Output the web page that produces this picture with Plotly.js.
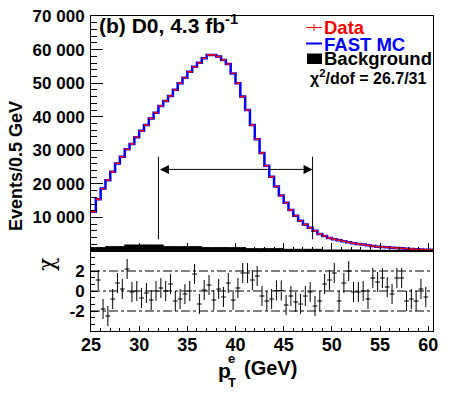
<!DOCTYPE html>
<html><head><meta charset="utf-8">
<script src="https://cdn.plot.ly/plotly-3.0.1.min.js"></script>
<style>html,body{margin:0;padding:0;background:#fff}#chart{width:458px;height:396px}</style>
</head><body><div id="chart"></div><script>
// ---- data ----
const binLow = 25, binWidth = 0.5;
const fastMC = [11700,15400,18600,21100,23600,26100,28100,30300,31900,33900,35800,37500,39500,41200,43200,44700,46200,48000,50000,51600,53400,54900,56100,57400,58400,58400,57900,56900,55700,52900,50000,46000,42000,37500,33300,29200,25400,22100,19200,16500,14400,12200,10500,9000,7900,6900,6000,5100,4500,3900,3500,3200,2900,2600,2300,2100,1900,1700,1500,1300,1200,1100,1000,900,800,700,600,500,450,400,350];
const dataEvents = [11700,15400,18600,21100,23600,26100,28100,30300,31900,33900,35800,37500,39500,41200,43200,44700,46200,48000,50000,51600,53400,54900,56100,57400,58400,58400,57900,56900,55700,52900,50000,46000,42000,37500,33300,29200,25400,22100,19200,16500,14400,12200,10500,9000,7900,6900,6000,5100,4500,3900,3500,3200,2900,2600,2300,2100,1900,1700,1500,1300,1200,1100,1000,900,800,700,600,500,450,400,350];
const background = [1000,1000,1000,1300,1300,1300,1300,1800,1800,1800,1800,1800,1800,1800,1800,1300,1300,1300,1300,1300,1300,1300,1300,1000,1000,1000,1000,1000,1000,1000,1000,1000,700,700,700,700,700,700,700,700,500,500,500,500,500,500,500,500,300,300,300,300,300,300,300,300,200,200,200,200,200,200,200,200,200,200,200,200,200,200,200];
const chi = [null,1.1,-1.8,-2.5,-0.8,0.8,0.2,2.2,-0.1,0.0,-0.7,-0.2,-0.9,0.0,0.3,0.0,0.7,-1.0,-0.8,-0.3,0.0,1.7,-1.3,0.1,0.6,-0.9,0.2,-0.6,0.8,-0.9,0.3,1.8,1.8,1.1,1.5,-0.5,-1.0,-0.8,0.05,0.05,-1.4,-0.5,-1.1,-1.3,-0.5,-0.1,-1.5,-1.0,0.7,1.1,1.8,-1.0,0.8,2.0,-0.1,-0.1,0.0,-0.8,1.3,0.9,1.3,0.4,-0.3,1.3,1.3,-1.0,-0.8,-1.0,0.2,-0.6];
const chiError = 1;
const yTickVals = [10000,20000,30000,40000,50000,60000,70000];
const yTickText = ['10 000','20 000','30 000','40 000','50 000','60 000','70 000'];
const xTickVals = [25,30,35,40,45,50,55,60];
const xTickText = ['25','30','35','40','45','50','55','60'];
const chiTickVals = [-2,0,2];
const chiTickText = ['-2','0','2'];
const chiRefLines = [-2,0,2];
const fitRange = [32,48];
const fitArrowLevel = 24300;
const fitLineSpan = [3500,28100];
const chi2Text = '\u03c7<sup>2</sup>/dof = 26.7/31';

// ---- derived x positions from binning ----
const nBins = fastMC.length;
const edges = Array.from({length: nBins + 1}, (_, i) => binLow + binWidth * i);
const centers = Array.from({length: nBins}, (_, i) => binLow + binWidth * (i + 0.5));
const stepY = a => a.concat([a[a.length - 1]]);
const xMax = edges[edges.length - 1];

// ---- pixel helpers for decorations ----
const W = 458, H = 396, L = 91, R = 433, T = 16, B = 331;
const px = x => (x - L) / (R - L);
const py = y => (B - y) / (B - T);
const FONT = 'Liberation Sans, Arial, sans-serif';

const traces = [
  {x: edges, y: stepY(background), type: 'scatter', mode: 'lines', line: {shape: 'hv', color: '#000', width: 1},
   fill: 'tozeroy', fillcolor: '#000', xaxis: 'x', yaxis: 'y', hoverinfo: 'skip'},
  {x: edges, y: stepY(fastMC), type: 'scatter', mode: 'lines', line: {shape: 'hv', color: '#0000ff', width: 2.5},
   xaxis: 'x', yaxis: 'y', hoverinfo: 'skip'},
  {x: centers, y: dataEvents, type: 'scatter', mode: 'markers', marker: {size: 1, color: '#ff0000'},
   error_x: {type: 'constant', value: binWidth / 2, width: 0, thickness: 1.5, color: '#ff0000'},
   xaxis: 'x', yaxis: 'y', hoverinfo: 'skip'},
  {x: centers.slice(0, chi.length), y: chi, type: 'scatter', mode: 'markers', marker: {size: 1, color: '#000'},
   error_x: {type: 'constant', value: binWidth / 2, width: 0, thickness: 1, color: '#000'},
   error_y: {type: 'constant', value: chiError, width: 0, thickness: 1, color: '#000'},
   xaxis: 'x2', yaxis: 'y2', hoverinfo: 'skip'}
];

const split = py(251);
const tickFont = {family: FONT, size: 17, color: '#000', weight: 700};
const xTickFont = {family: FONT, size: 18, color: '#000', weight: 700};

const shapes = [];
chiRefLines.forEach(v => shapes.push({type: 'line', xref: 'x2', yref: 'y2', x0: binLow, x1: xMax, y0: v, y1: v,
  line: {color: '#000', width: 1, dash: 'dashdot'}}));
fitRange.forEach(v => shapes.push({type: 'line', xref: 'x', yref: 'y', x0: v, x1: v, y0: fitLineSpan[0], y1: fitLineSpan[1],
  line: {color: '#000', width: 1}}));
// legend symbols
shapes.push({type: 'line', xref: 'paper', yref: 'paper', x0: px(306), x1: px(322), y0: py(27.5), y1: py(27.5), line: {color: '#ff0000', width: 1}});
shapes.push({type: 'line', xref: 'paper', yref: 'paper', x0: px(314), x1: px(314), y0: py(24), y1: py(31), line: {color: '#ff0000', width: 1}});
shapes.push({type: 'line', xref: 'paper', yref: 'paper', x0: px(306), x1: px(322), y0: py(43.5), y1: py(43.5), line: {color: '#0000ff', width: 2}});
shapes.push({type: 'rect', xref: 'paper', yref: 'paper', x0: px(307), x1: px(322), y0: py(53.5), y1: py(64), line: {width: 0}, fillcolor: '#000'});

const ann = (text, x, y, opts) => Object.assign({text, xref: 'paper', yref: 'paper', x: px(x), y: py(y), showarrow: false,
  xanchor: 'left', yanchor: 'middle', font: {family: FONT, size: 17, color: '#000', weight: 700}}, opts || {});

const annotations = [
  {xref: 'x', yref: 'y', axref: 'x', ayref: 'y', x: fitRange[1], y: fitArrowLevel, ax: fitRange[0], ay: fitArrowLevel,
   text: '', showarrow: true, arrowside: 'end+start', arrowhead: 2, arrowsize: 1.8, arrowwidth: 1, arrowcolor: '#000'},
  ann('(b) D0, 4.3 fb<sup>-1</sup>', 97, 24, {font: {family: FONT, size: 21, color: '#000', weight: 700}}),
  ann('Data', 322, 28, {font: {family: FONT, size: 18.5, color: '#ff0000', weight: 700}}),
  ann('FAST MC', 322, 44, {font: {family: FONT, size: 18.5, color: '#0000ff', weight: 700}}),
  ann('Background', 322, 59, {font: {family: FONT, size: 18.5, color: '#000', weight: 700}}),
  ann(chi2Text, 428, 77, {xanchor: 'right', font: {family: FONT, size: 16, color: '#000', weight: 700}}),
  ann('Events/0.5 GeV', 16, 166, {xanchor: 'center', textangle: -90, font: {family: FONT, size: 18, color: '#000', weight: 700}}),
  ann('\u03c7', 46, 265, {xanchor: 'center', textangle: -90, font: {family: 'DejaVu Serif, serif', size: 22, color: '#000'}}),
  ann('p', 216, 370, {font: {family: FONT, size: 21, color: '#000', weight: 700}}),
  ann('e', 231, 359, {xanchor: 'center', font: {family: FONT, size: 13, color: '#000', weight: 700}}),
  ann('T', 232, 382, {xanchor: 'center', font: {family: FONT, size: 13, color: '#000', weight: 700}}),
  ann('(GeV)', 242, 368, {font: {family: FONT, size: 20, color: '#000', weight: 700}})
];

const layout = {
  width: W, height: H, margin: {l: L, r: W - R, t: T, b: H - B, pad: 0},
  paper_bgcolor: '#fff', plot_bgcolor: '#fff', showlegend: false,
  font: {family: FONT, color: '#000'},
  xaxis: {domain: [0, 1], anchor: 'y', range: [binLow, xMax], showticklabels: false,
    tickmode: 'array', tickvals: xTickVals, ticks: 'inside', ticklen: 8, tickcolor: '#000',
    minor: {tickmode: 'linear', tick0: binLow, dtick: 1, ticks: 'inside', ticklen: 4, tickcolor: '#000', showgrid: false},
    showline: true, mirror: true, linecolor: '#000', linewidth: 1, showgrid: false, zeroline: false},
  yaxis: {domain: [split, 1], anchor: 'x', range: [0, 70000],
    tickmode: 'array', tickvals: yTickVals, ticktext: yTickText, ticks: 'inside', ticklen: 12, tickcolor: '#000',
    minor: {tickmode: 'linear', tick0: 0, dtick: 2000, ticks: 'inside', ticklen: 6, tickcolor: '#000', showgrid: false},
    tickfont: tickFont, ticklabelstandoff: 2,
    showline: true, mirror: true, linecolor: '#000', linewidth: 1, showgrid: false, zeroline: false},
  xaxis2: {domain: [0, 1], anchor: 'y2', range: [binLow, xMax], matches: 'x',
    tickmode: 'array', tickvals: xTickVals, ticktext: xTickText, ticks: 'inside', ticklen: 5, tickcolor: '#000',
    minor: {tickmode: 'linear', tick0: binLow, dtick: 1, ticks: 'inside', ticklen: 3, tickcolor: '#000', showgrid: false},
    tickfont: xTickFont, ticklabelstandoff: -3,
    showline: true, mirror: true, linecolor: '#000', linewidth: 1, showgrid: false, zeroline: false},
  yaxis2: {domain: [0, split], anchor: 'x2', range: [-4, 4],
    tickmode: 'array', tickvals: chiTickVals, ticktext: chiTickText, ticks: 'inside', ticklen: 7, tickcolor: '#000',
    minor: {tickmode: 'linear', tick0: 0, dtick: 2 / 3, ticks: 'inside', ticklen: 4, tickcolor: '#000', showgrid: false},
    tickfont: tickFont, ticklabelstandoff: 2,
    showline: true, mirror: true, linecolor: '#000', linewidth: 1, showgrid: false, zeroline: false},
  shapes, annotations
};

Plotly.newPlot('chart', traces, layout, {staticPlot: true, displayModeBar: false});
</script></body></html>
